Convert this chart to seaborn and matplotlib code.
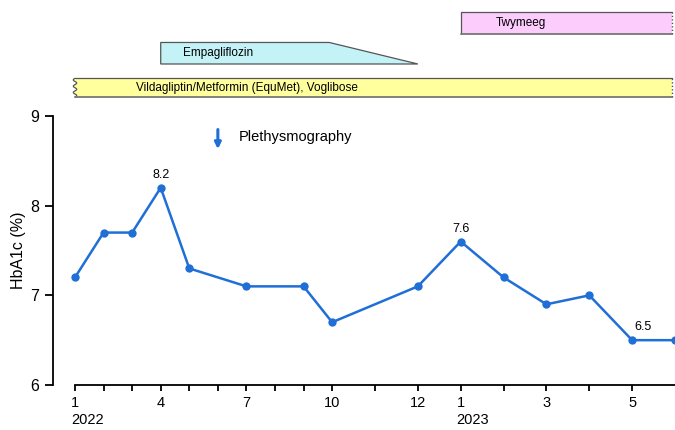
import numpy as np
import pandas as pd
import matplotlib
matplotlib.use("Agg")
import matplotlib.pyplot as plt
import seaborn as sns
from matplotlib.patches import Polygon
from matplotlib.transforms import ScaledTranslation

# months counted from Jan 2022 (=0)
visit_month = [0, 1, 2, 3, 4, 6, 8, 9, 11, 12, 13, 14, 15, 16, 17]
hba1c = [7.2, 7.7, 7.7, 8.2, 7.3, 7.1, 7.1, 6.7, 7.1, 7.6, 7.2, 6.9, 7.0, 6.5, 6.5]
labelled = [3, 9, 13]  # points that carry a value label

tick_month = list(range(0, 17))
tick_text = ['1', '', '', '4', '', '', '7', '', '', '10', '', '12',
             '1', '', '3', '', '5']
year_month = [0, 12]
year_text = ['2022', '2023']

drug_names = ['Vildagliptin/Metformin (EquMet), Voglibose', 'Empagliflozin', 'Twymeeg']
drug_start = [0, 3, 12]
drug_end = [16.93, 11, 16.93]
drug_taper = [None, 8.9, None]   # where the tapering (dose down) begins
drug_colors = ['#FFFF9E', '#C4F3F7', '#FCCCFC']
drug_rows = [(9.21, 9.42), (9.58, 9.82), (9.92, 10.16)]

event_month = 5
event_text = 'Plethysmography'

blue = '#1F6FD6'

sns.set_style('ticks', {'axes.edgecolor': 'black', 'text.color': 'black',
                        'xtick.color': 'black', 'ytick.color': 'black',
                        'axes.labelcolor': 'black'})
plt.rcParams['font.family'] = ['Liberation Sans', 'DejaVu Sans']

df = pd.DataFrame({'month': visit_month, 'HbA1c': hba1c})

fig = plt.figure(figsize=(6.75, 4.3), dpi=100)
ax = fig.add_axes([53 / 675, 45 / 430, 622 / 675, 269 / 430])

sns.lineplot(data=df, x='month', y='HbA1c', marker='o', color=blue, lw=1.8,
             markersize=6, markeredgewidth=0, ax=ax)


# axis is stretched from Oct 2022 onwards
def fwd(m):
    m = np.asarray(m, dtype=float)
    return np.where(m <= 9, m, 9 + (m - 9) * 1.5)


def inv(p):
    p = np.asarray(p, dtype=float)
    return np.where(p <= 9, p, 9 + (p - 9) / 1.5)


ax.set_xscale('function', functions=(fwd, inv))
ax.set_xlim(-0.77, 17)
ax.set_ylim(6, 9)
ax.set_yticks([6, 7, 8, 9])
ax.set_xticks(tick_month)
ax.set_xticklabels(tick_text, fontsize=10.5)
ax.tick_params(axis='y', labelsize=11.5, length=6, width=1.3, pad=4)
ax.tick_params(axis='x', length=4, width=1.3, pad=4)
ax.set_xlabel('')
ax.set_ylabel('HbA1c (%)', fontsize=11.5, labelpad=3)
sns.despine(ax=ax)
ax.spines['bottom'].set_bounds(0, 17)
ax.spines['left'].set_linewidth(1.3)
ax.spines['bottom'].set_linewidth(1.3)

# year under the first month
shift = ScaledTranslation(-4 / 100, 0, fig.dpi_scale_trans)
for m, t in zip(year_month, year_text):
    ax.text(m, -0.105, t, transform=ax.get_xaxis_transform() + shift,
            ha='left', va='top', fontsize=10.5)

# value labels
for i in labelled:
    dx = 8 if i == 13 else 0
    ax.annotate(f'{hba1c[i]:.1f}', (visit_month[i], hba1c[i]), xytext=(dx, 5),
                textcoords='offset points', ha='center', va='bottom', fontsize=9)

# event marker
ax.annotate('', xy=(event_month, 8.6), xytext=(event_month, 8.88),
            arrowprops=dict(arrowstyle='-|>', color=blue, lw=2.2, mutation_scale=9))
ax.annotate(event_text, (event_month, 8.765), xytext=(15, 0), textcoords='offset points',
            ha='left', va='center', fontsize=10.5)

# medication bars above the plot
for name, s, e, tp, col, (y0, y1) in zip(drug_names, drug_start, drug_end, drug_taper,
                                          drug_colors, drug_rows):
    if tp is not None:
        pts = [(s, y0), (e, y0), (tp, y1), (s, y1)]
        ax.add_patch(Polygon(pts, closed=True, facecolor=col, edgecolor='#555555',
                             lw=0.9, clip_on=False))
    else:
        yy = np.linspace(y1, y0, 40)
        if s == 0:
            xx = s + 0.06 * np.sin(2 * np.pi * 3 * (yy - y0) / (y1 - y0))
        else:
            xx = np.full_like(yy, s)
        pts = [(e, y0), (e, y1)] + list(zip(xx, yy))
        ax.add_patch(Polygon(pts, closed=True, facecolor=col, edgecolor='none',
                             clip_on=False))
        ax.plot([e, xx[0]], [y1, y1], color='#555555', lw=0.9, clip_on=False)
        ax.plot(xx, yy, color='#555555', lw=0.9, clip_on=False)
        ax.plot([xx[-1], e], [y0, y0], color='#777777', lw=1.3, clip_on=False)
        ax.plot([e, e], [y0, y1], color='#555555', lw=1.0, ls=(0, (1, 1.5)), clip_on=False)
    off = {0: 44, 3: 16, 12: 25}[s]
    ax.annotate(name, (s, (y0 + y1) / 2), xytext=(off, 0), textcoords='offset points',
                ha='left', va='center', fontsize=8.5, annotation_clip=False)

fig.savefig('out.png', dpi=100)
